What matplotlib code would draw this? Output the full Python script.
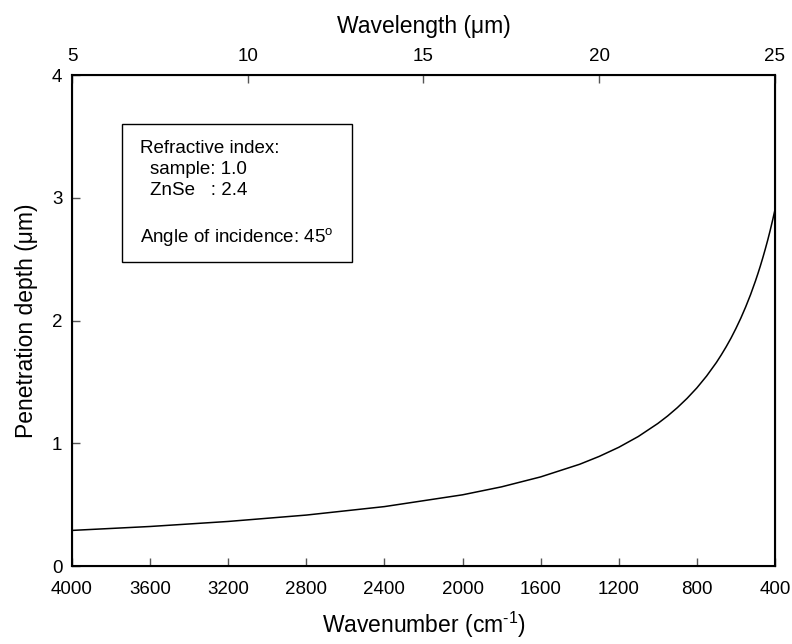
import matplotlib
matplotlib.use("Agg")
import matplotlib.pyplot as plt
from matplotlib.patches import Rectangle

plt.rcParams['font.family'] = ['Liberation Sans', 'DejaVu Sans']
plt.rcParams['mathtext.fontset'] = 'custom'
plt.rcParams['mathtext.rm'] = 'Liberation Sans'

# penetration depth
wavenumber = [4000, 3600, 3200, 2800, 2400, 2000, 1800, 1600, 1400, 1300, 1200, 1100,
              1000, 950, 900, 850, 800, 750, 700, 675, 650, 625, 600, 575, 550,
              525, 500, 487, 475, 462, 450, 437, 425, 412, 400]
depth = [0.29, 0.322, 0.363, 0.415, 0.484, 0.58, 0.645, 0.726, 0.829, 0.893, 0.967, 1.055,
         1.161, 1.222, 1.29, 1.366, 1.451, 1.548, 1.658, 1.72, 1.786, 1.857, 1.935, 2.019, 2.111,
         2.211, 2.322, 2.384, 2.444, 2.513, 2.58, 2.656, 2.731, 2.818, 2.902]

bottom_ticks = [4000, 3600, 3200, 2800, 2400, 2000, 1600, 1200, 800, 400]
top_ticks = [5, 10, 15, 20, 25]
y_ticks = [0, 1, 2, 3, 4]

fig = plt.figure(figsize=(7.92, 6.44), dpi=100)
ax = fig.add_axes([0.0909, 0.1211, 0.8876, 0.7624])

ax.plot(wavenumber, depth, color='black', lw=1.1)
ax.set_xlim(4000, 400)
ax.set_ylim(0, 4)
ax.set_xticks(bottom_ticks)
ax.set_yticks(y_ticks)
ax.tick_params(direction='in', length=6, width=1, labelsize=13.5, color='#555555')
ax.tick_params(axis='x', pad=11)
ax.tick_params(axis='y', pad=7)
ax.set_xlabel('Wavenumber (cm$^{\\mathrm{\u2010}1}$)', fontsize=16.5, labelpad=8)
ax.set_ylabel('Penetration depth (μm)', fontsize=16.5, labelpad=10)
for s in ax.spines.values():
    s.set_linewidth(1.5)

top = ax.twiny()
top.set_xlim(5, 25)
top.set_xticks(top_ticks)
top.tick_params(direction='in', length=6, width=1, labelsize=13.5, pad=7,
                color='#555555')
top.set_xlabel('Wavelength (μm)', fontsize=16.5, labelpad=11)

# info box
ax.add_patch(Rectangle((0.0711, 0.619), 0.327, 0.281, transform=ax.transAxes,
                       fill=False, lw=1, ec='black'))
fs = 13.5
ax.text(0.0967, 0.851, 'Refractive index:', transform=ax.transAxes, fontsize=fs, va='center')
ax.text(0.111, 0.807, 'sample: 1.0', transform=ax.transAxes, fontsize=fs, va='center')
ax.text(0.111, 0.764, 'ZnSe   : 2.4', transform=ax.transAxes, fontsize=fs, va='center')
ax.text(0.0967, 0.668, 'Angle of incidence: 45$^{\\mathrm{o}}$', transform=ax.transAxes,
        fontsize=fs, va='center')

fig.savefig('out.png', dpi=100)
